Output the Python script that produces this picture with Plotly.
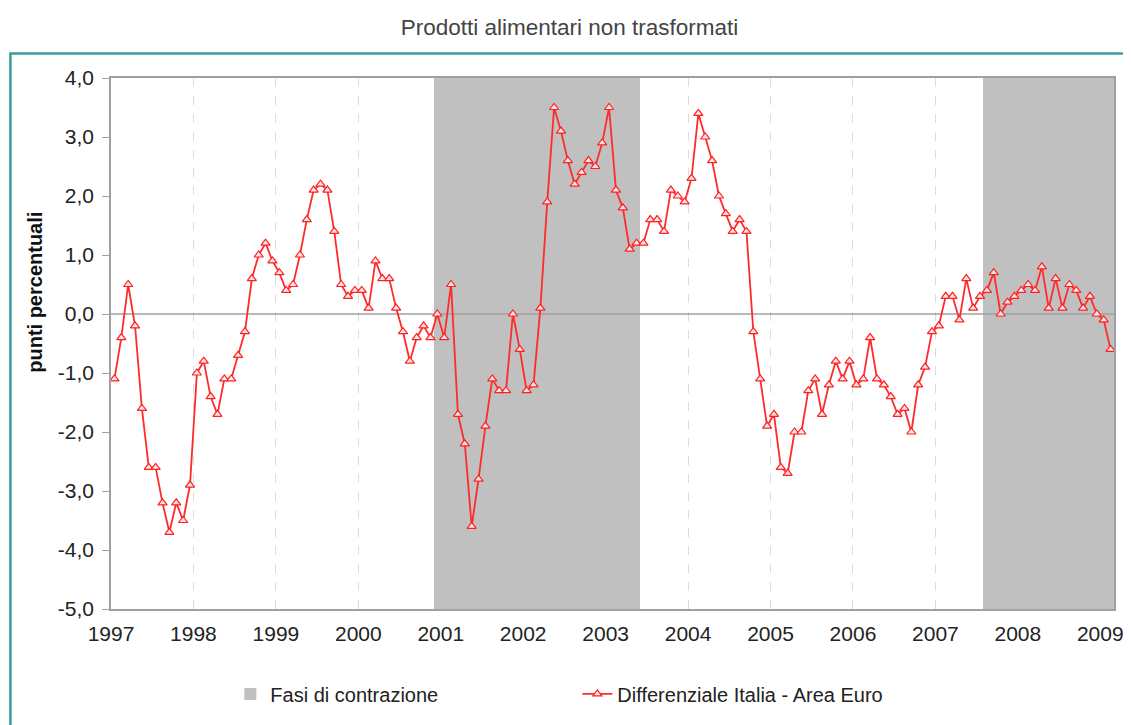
import plotly.graph_objects as go
import pandas as pd

# monthly differential Italy - euro area (percentage points), Jan 1997 .. Feb 2009
diff_1997 = [-1.1, -0.4, 0.5, -0.2, -1.6, -2.6, -2.6, -3.2, -3.7, -3.2, -3.5, -2.9]
diff_1998 = [-1.0, -0.8, -1.4, -1.7, -1.1, -1.1, -0.7, -0.3, 0.6, 1.0, 1.2, 0.9]
diff_1999 = [0.7, 0.4, 0.5, 1.0, 1.6, 2.1, 2.2, 2.1, 1.4, 0.5, 0.3, 0.4]
diff_2000 = [0.4, 0.1, 0.9, 0.6, 0.6, 0.1, -0.3, -0.8, -0.4, -0.2, -0.4, 0.0]
diff_2001 = [-0.4, 0.5, -1.7, -2.2, -3.6, -2.8, -1.9, -1.1, -1.3, -1.3, 0.0, -0.6]
diff_2002 = [-1.3, -1.2, 0.1, 1.9, 3.5, 3.1, 2.6, 2.2, 2.4, 2.6, 2.5, 2.9]
diff_2003 = [3.5, 2.1, 1.8, 1.1, 1.2, 1.2, 1.6, 1.6, 1.4, 2.1, 2.0, 1.9]
diff_2004 = [2.3, 3.4, 3.0, 2.6, 2.0, 1.7, 1.4, 1.6, 1.4, -0.3, -1.1, -1.9]
diff_2005 = [-1.7, -2.6, -2.7, -2.0, -2.0, -1.3, -1.1, -1.7, -1.2, -0.8, -1.1, -0.8]
diff_2006 = [-1.2, -1.1, -0.4, -1.1, -1.2, -1.4, -1.7, -1.6, -2.0, -1.2, -0.9, -0.3]
diff_2007 = [-0.2, 0.3, 0.3, -0.1, 0.6, 0.1, 0.3, 0.4, 0.7, 0.0, 0.2, 0.3]
diff_2008 = [0.4, 0.5, 0.4, 0.8, 0.1, 0.6, 0.1, 0.5, 0.4, 0.1, 0.3, 0.0]
diff_2009 = [-0.1, -0.6]

# contraction phases (first and last month)
contr_start = ["2000-12", "2007-08"]
contr_end = ["2003-05", "2009-02"]

years = list(range(1997, 2010))
yticks = [-5, -4, -3, -2, -1, 0, 1, 2, 3, 4]

values = (diff_1997 + diff_1998 + diff_1999 + diff_2000 + diff_2001 + diff_2002 +
          diff_2003 + diff_2004 + diff_2005 + diff_2006 + diff_2007 + diff_2008 + diff_2009)
months = pd.period_range("1997-01", periods=len(values), freq="M")
n = len(values)
xpos = [i + 0.5 for i in range(n)]

ymin, ymax = yticks[0], yticks[-1]

in_contr = [any(pd.Period(s, "M") <= m <= pd.Period(e, "M") for s, e in zip(contr_start, contr_end))
            for m in months]
shade_x = [x for x, f in zip(xpos, in_contr) if f]

fig = go.Figure()

fig.add_trace(go.Bar(
    x=shade_x, y=[ymax - ymin] * len(shade_x), base=ymin, width=1,
    marker=dict(color="#c0c0c0", line=dict(width=0)),
    name="Fasi di contrazione", hoverinfo="skip"))

# horizontal axis at zero, drawn over the shading
fig.add_trace(go.Scatter(
    x=[0, n], y=[0, 0], mode="lines", line=dict(color="#a0a0a0", width=1.5),
    showlegend=False, hoverinfo="skip"))

fig.add_trace(go.Scatter(
    x=xpos, y=values, mode="lines+markers",
    name="Differenziale Italia - Area Euro",
    line=dict(color="#ff2a2a", width=1.8),
    marker=dict(symbol="triangle-up", size=8, color="#ffe6e6",
                line=dict(color="#ff2020", width=1.2))))

# page body has an 8px margin: figure is sized/positioned to compensate
fig.update_layout(
    width=1123, height=717,
    margin=dict(l=102.6, r=17.4, t=70, b=107),
    paper_bgcolor="white", plot_bgcolor="white",
    font=dict(family="Liberation Sans, Arial, sans-serif", color="#222222"),
    title=dict(text="Prodotti alimentari non trasformati", x=0.5, xref="container",
               xanchor="center", y=1 - 19 / 717, yanchor="middle",
               font=dict(size=22.5, color="#444444")),
    bargap=0,
    showlegend=True,
    legend=dict(orientation="h", x=0.119, xanchor="left", y=-0.16, yanchor="middle",
                font=dict(size=20, color="#222222"), entrywidth=302,
                traceorder="normal"),
    xaxis=dict(range=[0, n], tickvals=[12 * i for i in range(len(years))],
               ticktext=[str(y) for y in years], showgrid=True, griddash="dash",
               gridcolor="#dcdcdc", gridwidth=1, showline=True, linecolor="#a0a0a0",
               linewidth=1.5, mirror=True, ticks="", zeroline=False,
               tickfont=dict(size=21), ticklabelstandoff=5, automargin=False),
    yaxis=dict(range=[ymin, ymax], tickvals=yticks,
               ticktext=[f"{v:.1f}".replace(".", ",") for v in yticks], showgrid=False,
               zeroline=False, showline=True, linecolor="#a0a0a0", linewidth=1.5,
               mirror=True, ticks="outside", ticklen=7, tickcolor="#a0a0a0",
               tickfont=dict(size=21), ticklabelstandoff=4, automargin=False),
    annotations=[dict(text="<b>punti percentuali</b>", xref="paper", yref="paper",
                      x=(35 - 110.6) / 1003, y=(618 - 296) / 540, textangle=-90,
                      showarrow=False, xanchor="center", yanchor="middle",
                      font=dict(size=20, color="#111111"))],
    shapes=[dict(type="rect", xref="paper", yref="paper",
                 x0=(10 - 110.6) / 1003, x1=1.03, y0=-0.27, y1=1 + 25 / 540,
                 line=dict(color="#3f9c9e", width=2.5), layer="below")],
)

fig.write_html("out.html")
